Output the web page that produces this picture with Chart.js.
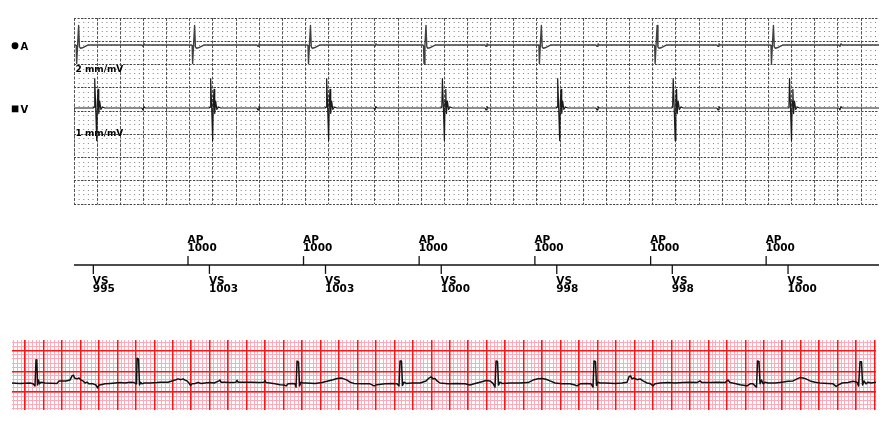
<!DOCTYPE html>
<html>
<head>
<meta charset="utf-8">
<script src="https://cdn.jsdelivr.net/npm/chart.js@4.4.1/dist/chart.umd.min.js"></script>
<style>
  body { margin: 0; background: #fff; width: 886px; height: 428px; overflow: hidden; position: relative; }
  canvas { position: absolute; left: 0; }
  #egm { top: 0; }
  #markers { top: 215px; }
  #ecg { top: 305px; }
</style>
</head>
<body>
<canvas id="egm" width="886" height="215"></canvas>
<canvas id="markers" width="886" height="90"></canvas>
<canvas id="ecg" width="886" height="123"></canvas>
<script>
// electrogram + marker panels share one time axis (ms)
const egmMaxMs = 6955;

// atrial / ventricular spike times (ms)
const aSpikeTimes = [23, 1025, 2026, 3024, 4021, 5021, 6026];
const vSpikeTimes = [196, 1198, 2200, 3200, 4196, 5194, 6199];
const notchTimes = [596, 1590, 2600, 3560, 4519, 5564, 6618];

// beat shapes (ms from spike, mV)
const aBeatT = [-10, -4, 0, 8, 17, 24, 32, 50, 75, 100];
const aBeatMv = [0, -0.1, -2.0, 0, 2.1, -0.2, -0.35, -0.3, -0.15, 0];
const vBeatT = [-30, -22, -17, -9, 0, 6, 12, 18, 26, 36, 50, 70];
const vBeatMv = [0, 0.2, 6.3, 0.5, -7.0, 1.5, 4.0, -1.2, 1.5, -0.3, 0.2, 0];
const notchT = [-10, 0, 8, 18];
const aNotchMv = [0, -0.15, 0.12, 0];
const vNotchMv = [0, -0.4, 0.3, 0];

// markers
const apTimes = [985, 1983, 2982, 3982, 4982, 5980];
const apIntervals = [1000, 1000, 1000, 1000, 1000, 1000];
const vsTimes = [167, 1170, 2173, 3173, 4171, 5169, 6169];
const vsIntervals = [995, 1003, 1003, 1000, 998, 998, 1000];

// surface ECG strip (ms, mV)
const ecgT = [-141, -54, 54, 87, 108, 119, 128, 136, 146, 157, 173, 217, 347, 368, 444, 487, 509, 525, 536, 563,
  585, 606, 628, 650, 671, 693, 736, 769, 785, 801, 823, 866, 921, 975, 1029, 1083, 1137, 1180, 1208, 1213,
  1229, 1240, 1251, 1267, 1289, 1354, 1430, 1462, 1549, 1592, 1625, 1657, 1689, 1711, 1733, 1754, 1776, 1792, 1809, 1841,
  1874, 1906, 1949, 2004, 2047, 2101, 2112, 2123, 2166, 2220, 2285, 2296, 2307, 2383, 2458, 2523, 2588, 2599, 2610, 2653,
  2708, 2762, 2805, 2827, 2848, 2892, 2924, 2935, 2946, 2962, 2973, 2989, 3011, 3043, 3141, 3217, 3281, 3336, 3379, 3422,
  3455, 3487, 3520, 3563, 3650, 3736, 3780, 3812, 3899, 3975, 4029, 4050, 4061, 4077, 4088, 4105, 4126, 4191, 4278, 4343,
  4375, 4397, 4419, 4440, 4462, 4494, 4581, 4668, 4765, 4819, 4863, 4928, 4993, 5036, 5068, 5090, 5101, 5117, 5128, 5144,
  5166, 5253, 5361, 5447, 5502, 5556, 5599, 5642, 5686, 5740, 5816, 5902, 5957, 5978, 6011, 6086, 6130, 6151, 6162, 6178,
  6189, 6206, 6227, 6281, 6390, 6465, 6520, 6541, 6558, 6574, 6595, 6628, 6660, 6693, 6736, 6769, 6801, 6823, 6877, 6964,
  7040, 7126, 7202, 7278, 7310, 7332, 7419, 7505, 7581, 7613, 7635, 7689, 7743, 7798, 7819, 7852, 7884, 7906, 7922, 7933,
  7949, 7960, 7976, 7993, 8014, 8047, 8123, 8198, 8263, 8317, 8361, 8393, 8426, 8458, 8502, 8556, 8610, 8696, 8751, 8783,
  8805, 8848, 8913, 8967, 9011, 9027, 9043, 9059, 9071, 9086, 9108, 9130, 9162, 9216];
const ecgMv = [0, -0.01, 0, -0.02, -0.07, 0.56, 0.53, -0.05, 0.07, -0.02, 0.02, 0, -0.01, 0.05, 0.05, 0.07, 0.17, 0.19, 0.12, 0.10,
  0.12, 0.07, 0.05, 0, 0.02, -0.02, -0.02, -0.05, -0.12, -0.05, -0.04, -0.02, -0.01, 0, 0.01, 0, 0.02, 0.01, -0.02, 0.60,
  0.58, -0.05, 0.02, -0.02, 0, 0, 0.01, 0.02, 0.02, 0.05, 0.07, 0.10, 0.08, 0.10, 0.07, 0.05, 0, -0.06, -0.02, -0.01,
  0.01, -0.01, 0, 0.01, 0, 0.05, 0.07, 0.02, 0.02, 0.01, 0.02, 0.06, 0.02, 0.02, 0.02, 0.01, 0.02, 0.06, 0.01, 0,
  -0.02, -0.04, -0.05, -0.07, -0.02, -0.01, -0.02, -0.10, 0.53, 0.51, -0.07, 0.02, 0, 0, -0.01, 0.01, 0.05, 0.08, 0.11, 0.12,
  0.10, 0.07, 0.02, -0.01, -0.02, -0.02, -0.07, -0.04, -0.02, -0.01, -0.02, -0.07, 0.53, 0.53, -0.06, 0.02, -0.01, 0, 0, 0.05,
  0.12, 0.15, 0.10, 0.11, 0.05, 0, -0.02, -0.01, -0.02, -0.05, -0.02, 0.02, 0.06, 0.05, -0.01, -0.10, 0.53, 0.52, -0.05, 0.02,
  -0.01, 0, 0, 0.01, 0.07, 0.10, 0.11, 0.09, 0.05, 0, -0.02, -0.02, -0.05, -0.07, -0.02, -0.01, -0.02, -0.10, 0.53, 0.52,
  -0.06, 0.02, 0, 0, -0.01, 0, 0.02, 0.15, 0.17, 0.10, 0.12, 0.08, 0.10, 0.05, 0, -0.01, -0.07, -0.02, 0, 0.01,
  0, 0.01, 0.02, 0.01, 0.05, 0.01, 0.01, 0.02, 0.01, 0.07, 0.01, -0.01, -0.04, -0.06, -0.07, -0.02, -0.02, -0.07, -0.10, 0.53,
  0.52, -0.02, 0.07, -0.02, 0.02, 0, 0, 0.02, 0.04, 0.05, 0.10, 0.13, 0.12, 0.10, 0.05, 0.02, 0, -0.01, -0.02, -0.08,
  -0.05, 0, 0.01, 0.04, 0.02, -0.07, 0.51, 0.51, -0.05, 0.05, -0.02, 0.02, 0, 0.02];

const aBaseMm = 34.2, vBaseMm = 20.65;   // channel baselines on the 40 mm panel
const aGain = 2, vGain = 1;              // mm/mV
const ecgBaseMv = 0.22;

function gridAxis(axis, min, max, step, color, width, dash, z) {
  return {
    type: 'linear', axis: axis, position: axis === 'x' ? 'bottom' : 'left',
    min: min, max: max,
    ticks: { display: false, stepSize: step, includeBounds: false },
    grid: { display: color !== null, color: color, lineWidth: width, drawTicks: false, z: z },
    border: { display: false, dash: dash },
    afterFit: s => { if (axis === 'x') s.height = 0; else s.width = 0; }
  };
}

function buildTrace(spikes, beatT, beatMv, notchMv, base, gain) {
  const pts = [{ x: 0, y: base }, { x: egmMaxMs, y: base }];
  spikes.forEach(t0 => beatT.forEach((dt, i) => pts.push({ x: t0 + dt, y: base + beatMv[i] * gain })));
  notchTimes.forEach(t0 => notchT.forEach((dt, i) => pts.push({ x: t0 + dt, y: base + notchMv[i] * gain })));
  pts.sort((a, b) => a.x - b.x);
  return pts;
}

const lineOpts = { pointRadius: 0, tension: 0, fill: false, borderJoinStyle: 'round' };

// ---- electrogram panel
const channelLabels = {
  id: 'channelLabels',
  beforeDatasetsDraw(chart) {
    const ctx = chart.ctx;
    const y = chart.scales.y;
    const aBase = y.getPixelForValue(aBaseMm);
    const vBase = y.getPixelForValue(vBaseMm);
    ctx.save();
    ctx.fillStyle = '#000';
    ctx.beginPath();
    ctx.arc(15, aBase + 0.8, 3.4, 0, Math.PI * 2);
    ctx.fill();
    ctx.fillRect(11.8, vBase - 2.5, 6.6, 6.8);
    ctx.font = 'bold 10px "DejaVu Sans"';
    ctx.textBaseline = 'alphabetic';
    ctx.fillText('A', 20.5, aBase + 5);
    ctx.fillText('V', 20.5, vBase + 5.3);
    ctx.font = 'bold 9px "DejaVu Sans"';
    ctx.fillText('2 mm/mV', chart.chartArea.left + 1.5, aBase + 27.5);
    ctx.fillText('1 mm/mV', chart.chartArea.left + 1.5, vBase + 28.5);
    ctx.restore();
  }
};

new Chart(document.getElementById('egm'), {
  type: 'line',
  data: {
    datasets: [
      Object.assign({ data: buildTrace(aSpikeTimes, aBeatT, aBeatMv, aNotchMv, aBaseMm, aGain),
        borderColor: '#404040', borderWidth: 1.4 }, lineOpts),
      Object.assign({ data: buildTrace(vSpikeTimes, vBeatT, vBeatMv, vNotchMv, vBaseMm, vGain),
        borderColor: '#1a1a1a', borderWidth: 1.2 }, lineOpts)
    ]
  },
  options: {
    responsive: false, animation: false, devicePixelRatio: 1,
    layout: { autoPadding: false, padding: { left: 74, right: 7, top: 18, bottom: 11 } },
    plugins: { legend: { display: false }, tooltip: { enabled: false } },
    scales: {
      x: gridAxis('x', 0, egmMaxMs, 200, '#555', 1, [3, 1.5], -0.5),
      y: gridAxis('y', 0, 40, 1, '#808080', 1, [1, 3.63], -1),
      y2: gridAxis('y', 0, 40, 5, '#444', 1, [2, 1.5], -0.5)
    }
  },
  plugins: [channelLabels]
});

// ---- marker channel
const markerLabels = {
  id: 'markerLabels',
  afterDatasetsDraw(chart) {
    const ctx = chart.ctx;
    const x = chart.scales.x;
    const base = chart.scales.y.getPixelForValue(0);
    ctx.save();
    ctx.fillStyle = '#000';
    ctx.font = 'bold 10.5px "DejaVu Sans"';
    ctx.textBaseline = 'alphabetic';
    apTimes.forEach((t, i) => {
      const px = x.getPixelForValue(t) - 0.5;
      ctx.fillText('AP', px, base - 21.7);
      ctx.fillText(String(apIntervals[i]), px, base - 14.3);
    });
    vsTimes.forEach((t, i) => {
      const px = x.getPixelForValue(t) - 0.5;
      ctx.fillText('VS', px, base + 19.3);
      ctx.fillText(String(vsIntervals[i]), px, base + 26.7);
    });
    ctx.restore();
  }
};

const tickStyle = { type: 'scatter', showLine: false, pointStyle: 'line', rotation: 90, pointRadius: 4.5,
  pointBorderWidth: 1.3, pointBorderColor: '#111', borderColor: '#111' };

new Chart(document.getElementById('markers'), {
  type: 'scatter',
  data: {
    datasets: [
      Object.assign({ type: 'line', data: [{ x: 0, y: 0 }, { x: egmMaxMs, y: 0 }], borderColor: '#111', borderWidth: 1.3 }, lineOpts),
      Object.assign({ data: apTimes.map(t => ({ x: t, y: 0.11 })) }, tickStyle),
      Object.assign({ data: vsTimes.map(t => ({ x: t, y: -0.11 })) }, tickStyle)
    ]
  },
  options: {
    responsive: false, animation: false, devicePixelRatio: 1,
    layout: { autoPadding: false, padding: { left: 74, right: 7, top: 10, bottom: 0 } },
    plugins: { legend: { display: false }, tooltip: { enabled: false } },
    scales: {
      x: gridAxis('x', 0, egmMaxMs, 1000, null, 0, [], -1),
      y: gridAxis('y', -1, 1, 1, null, 0, [], -1)
    }
  },
  plugins: [markerLabels]
});

// ---- surface ECG strip
new Chart(document.getElementById('ecg'), {
  type: 'line',
  data: {
    datasets: [
      Object.assign({ data: ecgT.map((t, i) => ({ x: t, y: ecgMv[i] + ecgBaseMv })),
        borderColor: '#111', borderWidth: 1.5 }, lineOpts)
    ]
  },
  options: {
    responsive: false, animation: false, devicePixelRatio: 1,
    layout: { autoPadding: false, padding: { left: 12, right: 10, top: 35, bottom: 18 } },
    plugins: { legend: { display: false }, tooltip: { enabled: false } },
    scales: {
      x: gridAxis('x', -141, 9216, 40, 'rgb(255,170,185)', 1, [], -1),
      x2: gridAxis('x', -141, 9216, 200, 'rgb(255,20,20)', 1.5, [], -0.5),
      y: gridAxis('y', -0.432, 1.258, 0.1, 'rgb(255,170,185)', 1, [], -1),
      y2: gridAxis('y', -0.432, 1.258, 0.5, 'rgb(255,20,20)', 1.5, [], -0.5)
    }
  }
});
</script>
</body>
</html>
